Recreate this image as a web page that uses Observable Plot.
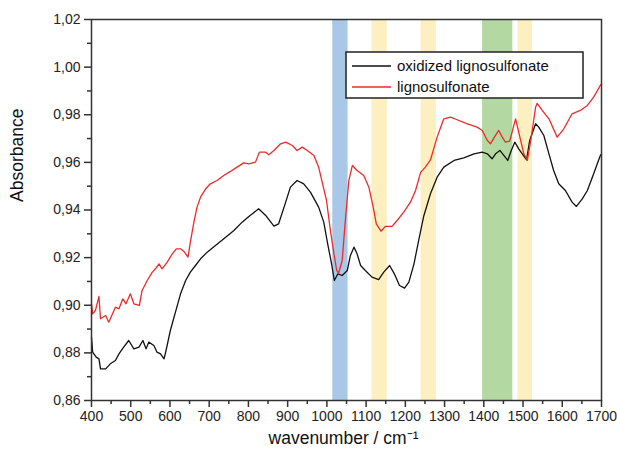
<!DOCTYPE html>
<html><head><meta charset="utf-8">
<script src="https://cdn.jsdelivr.net/npm/d3@7"></script>
<script src="https://cdn.jsdelivr.net/npm/@observablehq/plot@0.6"></script>
<style>body{margin:0;background:#fff;} #chart{position:relative;width:617px;height:457px;}</style>
</head><body><div id="chart"></div>
<script>
// Series: oxidized lignosulfonate (black)
const oxWavenumber = [400,403,412,419,423,436,448,461,470,482,495,508,521,531,539,546,559,567,576,585,590,601,614,627,640,652,665,678,695,716,742,763,784,801,810,826,844,865,877,895,907,924,941,958,979,992,1002,1012,1019,1028,1039,1052,1060,1069,1077,1086,1098,1115,1132,1145,1160,1172,1185,1198,1209,1222,1234,1247,1264,1281,1298,1324,1349,1375,1396,1409,1421,1430,1441,1451,1461,1470,1479,1489,1498,1509,1517,1532,1540,1553,1566,1578,1591,1608,1625,1636,1651,1664,1680,1697,1700];
const oxAbsorbance = [0.8866,0.8803,0.8782,0.8775,0.8733,0.8733,0.8754,0.8768,0.8796,0.8824,0.8852,0.8817,0.8824,0.8852,0.8817,0.8845,0.8831,0.8803,0.8796,0.8775,0.8810,0.8894,0.8971,0.9048,0.9104,0.9139,0.9167,0.9195,0.9223,0.9251,0.9286,0.9314,0.9349,0.9373,0.9384,0.9405,0.9377,0.9332,0.9342,0.9433,0.9496,0.9524,0.9510,0.9475,0.9412,0.9349,0.9258,0.9174,0.9104,0.9132,0.9125,0.9146,0.9209,0.9244,0.9216,0.9167,0.9146,0.9118,0.9108,0.9139,0.9167,0.9132,0.9083,0.9072,0.9097,0.9174,0.9272,0.9375,0.9468,0.9538,0.9580,0.9608,0.9619,0.9636,0.9643,0.9636,0.9615,0.9636,0.9650,0.9629,0.9608,0.9650,0.9685,0.9657,0.9636,0.9611,0.9692,0.9762,0.9748,0.9713,0.9636,0.9566,0.9510,0.9482,0.9433,0.9415,0.9447,0.9482,0.9552,0.9629,0.9635];

// Series: lignosulfonate (red)
const lsWavenumber = [400,403,410,419,423,436,444,461,470,480,488,499,508,522,529,542,555,563,572,580,593,606,616,627,635,646,652,661,669,678,691,703,720,737,754,771,788,801,818,828,844,852,865,882,895,912,924,937,950,967,979,988,999,1009,1018,1025,1030,1039,1047,1056,1065,1077,1094,1107,1118,1126,1138,1149,1166,1179,1196,1213,1226,1239,1251,1264,1281,1298,1315,1332,1358,1383,1396,1409,1417,1427,1438,1447,1455,1466,1481,1492,1502,1511,1521,1532,1536,1549,1566,1587,1604,1625,1646,1664,1680,1697,1700];
const lsAbsorbance = [0.9006,0.8964,0.8978,0.9037,0.8943,0.8957,0.8929,0.8992,0.8985,0.9027,0.9006,0.9048,0.9006,0.8999,0.9062,0.9104,0.9139,0.9153,0.9174,0.9153,0.9181,0.9216,0.9237,0.9237,0.9227,0.9202,0.9265,0.9349,0.9412,0.9454,0.9489,0.9510,0.9524,0.9545,0.9562,0.9580,0.9598,0.9594,0.9601,0.9643,0.9643,0.9632,0.9650,0.9678,0.9685,0.9671,0.9650,0.9664,0.9650,0.9629,0.9580,0.9517,0.9440,0.9314,0.9216,0.9146,0.9135,0.9188,0.9356,0.9524,0.9587,0.9566,0.9545,0.9496,0.9412,0.9342,0.9311,0.9331,0.9331,0.9356,0.9391,0.9433,0.9482,0.9558,0.9580,0.9610,0.9706,0.9783,0.9790,0.9779,0.9762,0.9748,0.9734,0.9692,0.9678,0.9706,0.9734,0.9706,0.9685,0.9689,0.9783,0.9706,0.9636,0.9608,0.9706,0.9832,0.9848,0.9818,0.9783,0.9706,0.9741,0.9804,0.9818,0.9839,0.9874,0.9923,0.9930];

// Highlighted bands (wavenumber ranges)
const blueBandStart = [1015];
const blueBandEnd = [1054];
const yellowBandStart = [1115, 1240, 1487];
const yellowBandEnd = [1154, 1279, 1524];
const greenBandStart = [1397];
const greenBandEnd = [1474];

// Ticks
const xMajorTicks = [400,500,600,700,800,900,1000,1100,1200,1300,1400,1500,1600,1700];
const xMinorTicks = [450,550,650,750,850,950,1050,1150,1250,1350,1450,1550,1650];
const yMajorTicks = [0.86,0.88,0.90,0.92,0.94,0.96,0.98,1.00,1.02];
const yMinorTicks = [0.87,0.89,0.91,0.93,0.95,0.97,0.99,1.01];

const seriesNames = ["oxidized lignosulfonate", "lignosulfonate"];
const seriesColors = ["#111111", "#ee2a2a"];

const zip = (xs, ys) => xs.map((x, i) => ({x, y: ys[i]}));
const bands = (s, e) => s.map((v, i) => ({start: v, end: e[i]}));
const oxData = zip(oxWavenumber, oxAbsorbance);
const lsData = zip(lsWavenumber, lsAbsorbance);
const fmt = d => d.toFixed(2).replace(".", ",");
const axisStyle = {stroke: "#333", strokeWidth: 1.5, fill: "#222", fontSize: 14};

const chart = Plot.plot({
  width: 617, height: 457,
  marginLeft: 91, marginRight: 16, marginTop: 19, marginBottom: 57,
  style: {fontFamily: "'Liberation Sans', Arial, sans-serif", background: "#fff", color: "#222"},
  x: {domain: [400, 1700]},
  y: {domain: [0.86, 1.02]},
  marks: [
    Plot.rect(bands(blueBandStart, blueBandEnd), {x1: "start", x2: "end", fill: "#a9c8e8"}),
    Plot.rect(bands(yellowBandStart, yellowBandEnd), {x1: "start", x2: "end", fill: "#fcefc0"}),
    Plot.rect(bands(greenBandStart, greenBandEnd), {x1: "start", x2: "end", fill: "#b4d8a1"}),
    Plot.line(oxData, {x: "x", y: "y", stroke: seriesColors[0], strokeWidth: 1.3}),
    Plot.line(lsData, {x: "x", y: "y", stroke: seriesColors[1], strokeWidth: 1.3}),
    Plot.axisX({ticks: xMajorTicks, tickSize: 7, tickPadding: 4, tickFormat: d => String(d), label: null, ...axisStyle}),
    Plot.axisX({ticks: xMinorTicks, tickSize: 4, text: null, label: null, stroke: "#333", strokeWidth: 1.5}),
    Plot.axisY({ticks: yMajorTicks, tickSize: 7, tickPadding: 4, tickFormat: fmt, label: null, ...axisStyle}),
    Plot.axisY({ticks: yMinorTicks, tickSize: 4, text: null, label: null, stroke: "#333", strokeWidth: 1.5}),
    Plot.frame({stroke: "#333", strokeWidth: 1.5}),
    Plot.text(["Absorbance"], {frameAnchor: "left", dx: -74, dy: -8, rotate: -90, fontSize: 17.5, fill: "#111"}),
    Plot.text(["wavenumber / cm⁻¹"], {frameAnchor: "bottom", dy: 43, dx: -3, fontSize: 17.5, fill: "#111"})
  ]
});

// Legend inside the plot area
const svg = d3.select(chart);
const lg = svg.append("g").attr("font-family", "'Liberation Sans', Arial, sans-serif")
  .attr("font-size", 15).attr("text-anchor", "start");
lg.append("rect").attr("x", 346).attr("y", 52).attr("width", 237).attr("height", 46)
  .attr("fill", "#fff").attr("stroke", "#222").attr("stroke-width", 1.5);
seriesNames.forEach((name, i) => {
  const yy = 66 + i * 21;
  lg.append("line").attr("x1", 352).attr("x2", 391).attr("y1", yy).attr("y2", yy)
    .attr("stroke", seriesColors[i]).attr("stroke-width", 1.3);
  lg.append("text").attr("x", 397).attr("y", yy).attr("dy", "0.35em")
    .attr("text-anchor", "start").attr("fill", "#111").text(name);
});

document.getElementById("chart").appendChild(chart);
</script>
</body></html>
